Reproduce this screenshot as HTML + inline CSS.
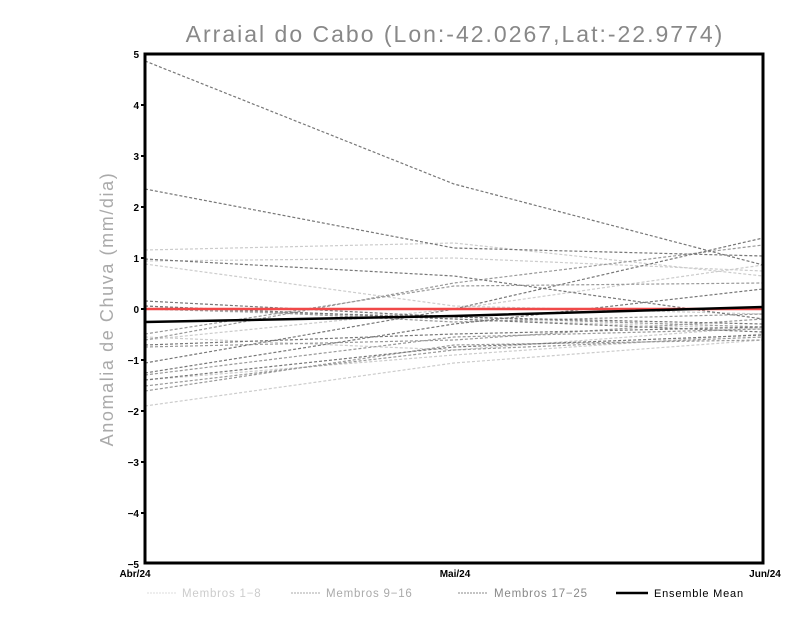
<!DOCTYPE html>
<html><head><style>body{margin:0;background:#fff}svg{display:block}</style></head><body>
<svg width="800" height="618" xmlns="http://www.w3.org/2000/svg" font-family="Liberation Sans, sans-serif">
<text x="455" y="42" text-anchor="middle" font-size="23" fill="#888" letter-spacing="2">Arraial do Cabo (Lon:-42.0267,Lat:-22.9774)</text>
<text transform="translate(113,309) rotate(-90)" text-anchor="middle" font-size="18" fill="#aaa" letter-spacing="1.6">Anomalia de Chuva (mm/dia)</text>
<g fill="none" stroke-width="1.2" stroke-dasharray="3,2">
<g stroke="#ccc">
<polyline points="145,250 454,243 763,276"/><polyline points="145,264 454,306 763,314"/>
<polyline points="145,261 454,258 763,271"/><polyline points="145,406 454,363 763,340"/>
<polyline points="145,309 454,319 763,329"/><polyline points="145,380 454,355 763,334"/>
<polyline points="145,337 454,350 763,327"/><polyline points="145,340 454,309 763,265"/>
</g>
<g stroke="#999">
<polyline points="145,340 454,283 763,245"/><polyline points="145,309 454,317 763,327"/>
<polyline points="145,347 454,340 763,319"/><polyline points="145,386 454,350 763,337"/>
<polyline points="145,375 454,337 763,329"/><polyline points="145,306 454,322 763,314"/>
<polyline points="145,334 454,286 763,283"/><polyline points="145,391 454,345 763,340"/>
</g>
<g stroke="#777">
<polyline points="145,61 454,184 763,265"/><polyline points="145,189 454,248 763,256"/>
<polyline points="145,259 454,276 763,319"/><polyline points="145,301 454,317 763,324"/>
<polyline points="145,363 454,309 763,238"/><polyline points="145,345 454,334 763,327"/>
<polyline points="145,380 454,347 763,335"/><polyline points="145,306 454,319 763,332"/>
<polyline points="145,373 454,324 763,289"/>
</g>
</g>
<line x1="145" y1="309" x2="763" y2="309" stroke="#f04848" stroke-width="2.5"/>
<polyline points="145,322 454,316 763,307" fill="none" stroke="#000" stroke-width="2.5"/>
<rect x="145" y="54" width="618" height="509" fill="none" stroke="#000" stroke-width="3"/>
<g font-size="10" font-weight="bold" text-anchor="end">
<text x="139" y="58">5</text><text x="139" y="109">4</text><text x="139" y="160">3</text>
<text x="139" y="211">2</text><text x="139" y="262">1</text><text x="139" y="313">0</text>
<text x="139" y="364">−1</text><text x="139" y="415">−2</text><text x="139" y="466">−3</text>
<text x="139" y="517">−4</text><text x="139" y="568">−5</text>
</g>
<g stroke="#000" stroke-width="2">
<line x1="141" y1="105" x2="145" y2="105"/><line x1="141" y1="156" x2="145" y2="156"/>
<line x1="141" y1="207" x2="145" y2="207"/><line x1="141" y1="258" x2="145" y2="258"/>
<line x1="141" y1="309" x2="145" y2="309"/><line x1="141" y1="360" x2="145" y2="360"/>
<line x1="141" y1="411" x2="145" y2="411"/><line x1="141" y1="462" x2="145" y2="462"/>
<line x1="141" y1="513" x2="145" y2="513"/>
</g>
<g font-size="10" font-weight="bold" text-anchor="middle">
<text x="135" y="577">Abr/24</text><text x="455" y="577">Mai/24</text><text x="765" y="577">Jun/24</text>
</g>
<g font-size="11.5" letter-spacing="0.8">
<line x1="147" y1="593" x2="177" y2="593" stroke="#ddd" stroke-dasharray="2,1"/>
<text x="182" y="597" fill="#ccc">Membros 1−8</text>
<line x1="291" y1="593" x2="321" y2="593" stroke="#aaa" stroke-dasharray="2,1"/>
<text x="326" y="597" fill="#aaa">Membros 9−16</text>
<line x1="458" y1="593" x2="488" y2="593" stroke="#888" stroke-dasharray="2,1"/>
<text x="494" y="597" fill="#888">Membros 17−25</text>
<line x1="616" y1="593" x2="648" y2="593" stroke="#000" stroke-width="2.5"/>
<text x="654" y="597" fill="#000" font-size="11">Ensemble Mean</text>
</g>
</svg>
</body></html>
